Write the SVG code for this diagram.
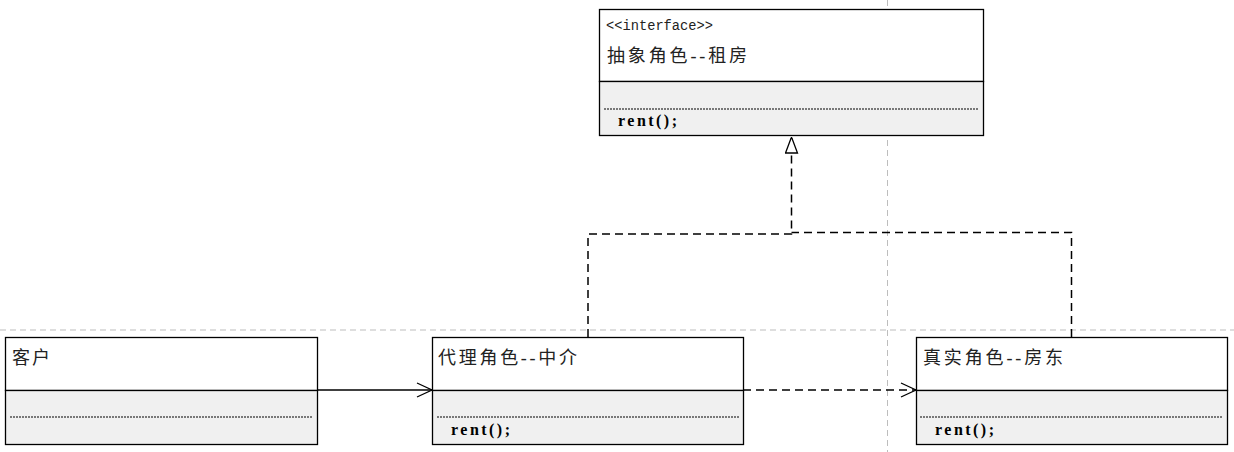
<svg xmlns="http://www.w3.org/2000/svg" width="1234" height="452" viewBox="0 0 1234 452">
<defs>
<style>
.guide{stroke:#bdbdbd;stroke-width:1;stroke-dasharray:6,4;fill:none}
.box{fill:#fff;stroke:#000;stroke-width:1.3}
.ops{fill:#f0f0f0;stroke:#000;stroke-width:1.3}
.dot{stroke:#000;stroke-width:1;stroke-dasharray:2,1}
.name{font-family:"Liberation Serif","Noto Sans CJK SC",serif;font-size:18px;fill:#222}
.stereo{font-family:"Liberation Mono","Noto Sans CJK SC",monospace;font-size:14px;fill:#222}
.op{font-family:"Liberation Serif","Noto Sans CJK SC",serif;font-size:16px;font-weight:bold;fill:#000}
.line{stroke:#000;stroke-width:1.5;fill:none}
.dash{stroke:#000;stroke-width:1.5;fill:none;stroke-dasharray:8,5}
</style>
<marker id="open" markerWidth="18" markerHeight="16" refX="16" refY="8" orient="auto" markerUnits="userSpaceOnUse">
<path d="M1,1 L16,8 L1,15" fill="none" stroke="#000" stroke-width="1.3"/>
</marker>
<marker id="tri" markerWidth="16" markerHeight="20" refX="17" refY="7" orient="auto" markerUnits="userSpaceOnUse">
<path d="M1,1 L17,7 L1,13 Z" fill="#fff" stroke="#000" stroke-width="1.3"/>
</marker>
</defs>
<g id="guides">
<line class="guide" x1="0" y1="330" x2="1234" y2="330"/>
<line class="guide" x1="887.5" y1="0" x2="887.5" y2="452"/>
</g>
<g id="connectors">
<line class="line" x1="317" y1="390" x2="432" y2="390" marker-end="url(#open)"/>
<line class="dash" x1="743" y1="390" x2="916" y2="390" marker-end="url(#open)"/>
<polyline class="dash" points="588,337 588,234 791.5,234 791.5,153"/>
<polyline class="dash" points="1071.5,337 1071.5,232.5 791.5,232.5"/>
<line class="line" x1="791.5" y1="153" x2="791.5" y2="137" marker-end="url(#tri)"/>
</g>
<g id="interface">
<rect class="box" x="599.5" y="9.5" width="384" height="72"/>
<rect class="ops" x="599.5" y="81.5" width="384" height="54"/>
<line class="dot" x1="604" y1="109" x2="979" y2="109"/>
<text class="stereo" x="606" y="30" textLength="107" lengthAdjust="spacingAndGlyphs">&lt;&lt;interface&gt;&gt;</text>
<text class="name" x="607" y="62" textLength="140">抽象角色--租房</text>
<text class="op" x="618" y="126" textLength="59">rent();</text>
</g>
<g id="client">
<rect class="box" x="5.5" y="337.5" width="312" height="53"/>
<rect class="ops" x="5.5" y="390.5" width="312" height="54"/>
<line class="dot" x1="10" y1="417" x2="313" y2="417"/>
<text class="name" x="12" y="364" textLength="38">客户</text>
</g>
<g id="proxy">
<rect class="box" x="432.5" y="337.5" width="311" height="53"/>
<rect class="ops" x="432.5" y="390.5" width="311" height="54"/>
<line class="dot" x1="437" y1="417" x2="739" y2="417"/>
<text class="name" x="438" y="364" textLength="139">代理角色--中介</text>
<text class="op" x="451" y="435" textLength="59">rent();</text>
</g>
<g id="real">
<rect class="box" x="916.5" y="337.5" width="311" height="53"/>
<rect class="ops" x="916.5" y="390.5" width="311" height="54"/>
<line class="dot" x1="920" y1="417" x2="1223" y2="417"/>
<text class="name" x="923" y="364" textLength="140">真实角色--房东</text>
<text class="op" x="935" y="435" textLength="59">rent();</text>
</g>
</svg>
